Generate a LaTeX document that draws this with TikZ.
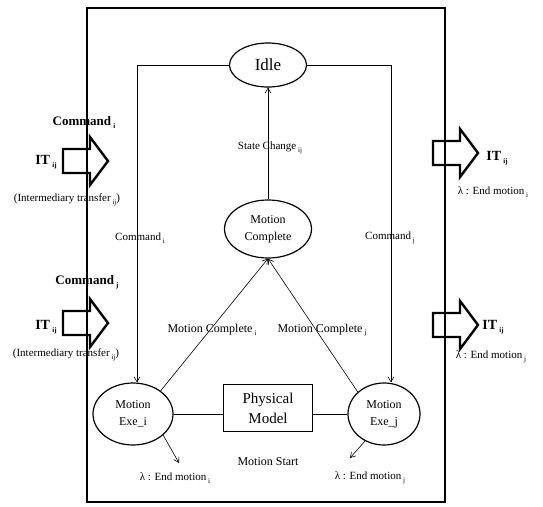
\documentclass[tikz,border=0pt]{standalone}
\usepackage{fontspec}
\setmainfont{Liberation Serif}
\usetikzlibrary{arrows.meta,shapes.geometric}
% lowered, small index after a word
\newcommand\sub[1]{\,\raisebox{-0.5ex}{\fontsize{7}{7}\selectfont #1}}

\begin{document}
\begin{tikzpicture}[x=1pt,y=-1pt,
  state/.style={ellipse,draw,line width=1.2pt,inner sep=0pt,align=center,
    font=\fontsize{12}{17}\selectfont},
  flow/.style={line width=0.6pt,-{Straight Barb[length=5pt,width=6pt]}},
  link/.style={line width=0.6pt},
  lbl/.style={font=\fontsize{11}{13}\selectfont,inner sep=1pt},
  midlbl/.style={font=\fontsize{12}{14}\selectfont,inner sep=1pt},
  biglbl/.style={font=\bfseries\fontsize{13}{15}\selectfont,inner sep=1pt},
  itlbl/.style={font=\bfseries\fontsize{14}{16}\selectfont,inner sep=1pt},
  bigarrow/.pic={\draw[line width=2.4pt,line join=miter]
    (0,-12) -- (27,-12) -- (27,-24) -- (45,0) -- (27,24) -- (27,12) -- (0,12) -- cycle;}
]
\useasboundingbox (0,0) rectangle (543,506);

% system boundary
\draw[line width=2pt] (87,8) rectangle (445,502);

% states
\node[state,minimum width=77pt,minimum height=44pt,font=\fontsize{17}{20}\selectfont]
  (idle) at (268,65) {Idle};
\node[state,minimum width=87pt,minimum height=58pt] (mc) at (268,229) {Motion\\Complete};
\node[state,minimum width=80pt,minimum height=62pt] (exei) at (133,414) {Motion\\Exe\_i};
\node[state,minimum width=72pt,minimum height=62pt] (exej) at (384,414) {Motion\\Exe\_j};
\node[draw,line width=0.8pt,minimum width=89pt,minimum height=47pt,align=center,
  font=\fontsize{15}{20}\selectfont] (pm) at (268,408) {Physical\\Model};

% transitions
\draw[flow] (idle.west) -| ([xshift=4pt]exei.north);
\draw[flow] (idle.east) -| ([xshift=7pt]exej.north);
\draw[flow] (mc.north) -- (idle.south);
\draw[flow] (exei.40) -- (mc.south);
\draw[flow] (exej.140) -- (mc.south);
\draw[link] (exei.east) -- (exei.east -| pm.west);
\draw[link] (exej.west) -- (exej.west -| pm.east);

\coordinate (endi) at (179,463);
\coordinate (endj) at (350,458);
\draw[flow] (exei.-35) -- (endi);
\draw[flow] (exej.-125) -- (endj);

% transition labels
\node[lbl] (cmdi) at (140,238) {Command\sub{i}};
\node[lbl] (cmdj) at (390,238) {Command\sub{j}};
\node[lbl] (sc) at (270,148) {State Change\sub{ij}};
\node[midlbl] (mci) at (212,330) {Motion Complete\sub{i}};
\node[midlbl] (mcj) at (322,330) {Motion Complete\sub{j}};
\node[midlbl] (mstart) at (268,462) {Motion Start};
\node[lbl] (lami) at (175,478) {λ : End motion\sub{i}};
\node[lbl] (lamj) at (370,478) {λ : End motion\sub{j}};

% inputs
\node[biglbl] (cmdin1) at (84,122) {Command\sub{i}};
\node[itlbl] (itin1) at (46,162) {IT\sub{ij}};
\node[lbl] (trin1) at (67,200) {(Intermediary transfer\sub{ij})};
\pic at (63,161) {bigarrow};

\node[biglbl] (cmdin2) at (87,282) {Command\sub{j}};
\node[itlbl] (itin2) at (46,327) {IT\sub{ij}};
\node[lbl] (trin2) at (66,355) {(Intermediary transfer\sub{ij})};
\pic at (63,323) {bigarrow};

% outputs
\pic at (433,153) {bigarrow};
\node[itlbl] (itout1) at (497,158) {IT\sub{ij}};
\node[lbl] (endout1) at (493,192) {λ : End motion\sub{i}};

\pic at (433,325) {bigarrow};
\node[itlbl] (itout2) at (493,327) {IT\sub{ij}};
\node[lbl] (endout2) at (491,357) {λ : End motion\sub{j}};
\end{tikzpicture}
\end{document}
